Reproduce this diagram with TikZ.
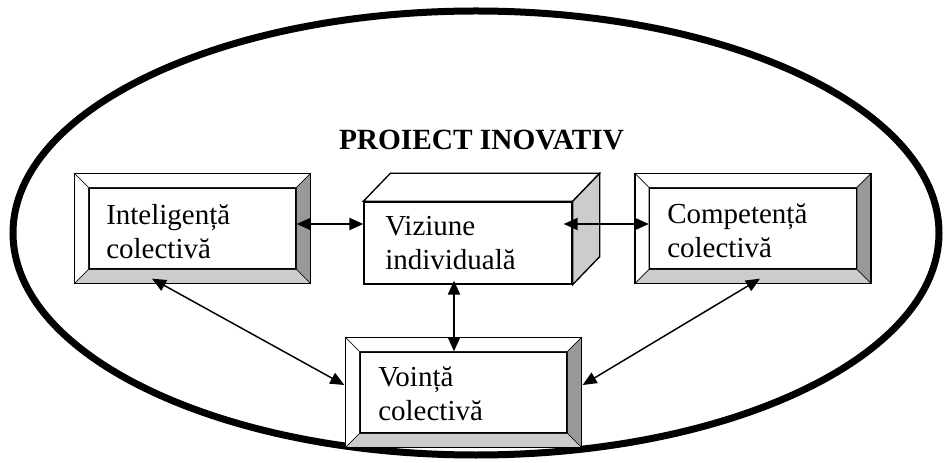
\documentclass[tikz,border=0pt]{standalone}
\usepackage{fontspec}
\setmainfont{Liberation Serif}
\usetikzlibrary{arrows.meta,calc}
\definecolor{bevdark}{RGB}{153,153,153}
\definecolor{bevlight}{RGB}{204,204,204}
\tikzset{
  proj/.style={x=0.75pt,y=-0.75pt,font=\fontsize{21.75}{25.5}\selectfont},
  face/.style={draw,fill=white,line width=1pt,minimum width=155.25pt,minimum height=60.75pt,inner sep=0pt},
  boxtext/.style={anchor=base west,align=left,inner sep=0pt},
  link/.style={{Triangle[length=10.5pt,width=9pt]}-{Triangle[length=10.5pt,width=9pt]},line width=1.6pt},
  slant/.style={link,line width=1.1pt}
}

\begin{document}
\begin{tikzpicture}[proj]
  \useasboundingbox (0,0) rectangle (946,463);
  \draw[line width=5.25pt] (476,233) ellipse [x radius=463, y radius=222];

  \node[font=\bfseries\fontsize{22}{26}\selectfont,anchor=base] (title) at (481.5,150) {PROIECT INOVATIV};

  % the three bevelled boxes and the cube
  \node[face] (intel) at (192.5,228.5) {};
  \node[face] (compet) at (753,228.5) {};
  \node[face] (vointa) at (463.5,392.5) {};
  \node[face,minimum width=156pt,minimum height=61.5pt] (viz) at (468,243) {};

  \foreach \b in {intel,compet,vointa} {
    \coordinate (\b-a) at ($(\b.north west)+(-14,-14)$);
    \coordinate (\b-b) at ($(\b.north east)+(14,-14)$);
    \coordinate (\b-c) at ($(\b.south east)+(14,14)$);
    \coordinate (\b-d) at ($(\b.south west)+(-14,14)$);
    \filldraw[fill=white] (\b-a) -- (\b-b) -- (\b.north east) -- (\b.north west) -- cycle;
    \filldraw[fill=white] (\b-a) -- (\b.north west) -- (\b.south west) -- (\b-d) -- cycle;
    \filldraw[fill=bevdark] (\b-b) -- (\b-c) -- (\b.south east) -- (\b.north east) -- cycle;
    \filldraw[fill=bevlight] (\b-d) -- (\b-c) -- (\b.south east) -- (\b.south west) -- cycle;
    \draw[line width=1.2pt] (\b-a) rectangle (\b-c);
  }

  \coordinate (viz-a) at ($(viz.north west)+(27,-28)$);
  \coordinate (viz-b) at ($(viz.north east)+(27,-28)$);
  \coordinate (viz-c) at ($(viz.south east)+(27,-28)$);
  \filldraw[fill=white,line width=1pt] (viz.north west) -- (viz-a) -- (viz-b) -- (viz.north east) -- cycle;
  \filldraw[fill=bevlight,line width=1pt] (viz.north east) -- (viz-b) -- (viz-c) -- (viz.south east) -- cycle;

  \node[boxtext] (intel-t) at (106,259) {Inteligență\\colectivă};
  \node[boxtext] (viz-t) at (385,270) {Viziune\\individuală};
  \node[boxtext] (compet-t) at (667,258) {Competență\\colectivă};
  \node[boxtext] (vointa-t) at (378,420) {Voință\\colectivă};

  % connectors
  \draw[link] ($(intel.east)+(0,-4.5)$) coordinate (h1) -- (h1 -| viz.west);
  \draw[link] ($(h1 -| viz.east)+(-9,0)$) -- (h1 -| compet.west);
  \draw[link] ($(viz.south)+(-14,-4)$) coordinate (v1) -- (v1 |- vointa.north);
  \draw[slant] ($(intel.south)+(-40.5,9)$) -- ($(vointa.west)+(-15,-7.5)$);
  \draw[slant] ($(compet.south)+(7,9)$) -- ($(vointa.east)+(15,-7.5)$);
\end{tikzpicture}
\end{document}
